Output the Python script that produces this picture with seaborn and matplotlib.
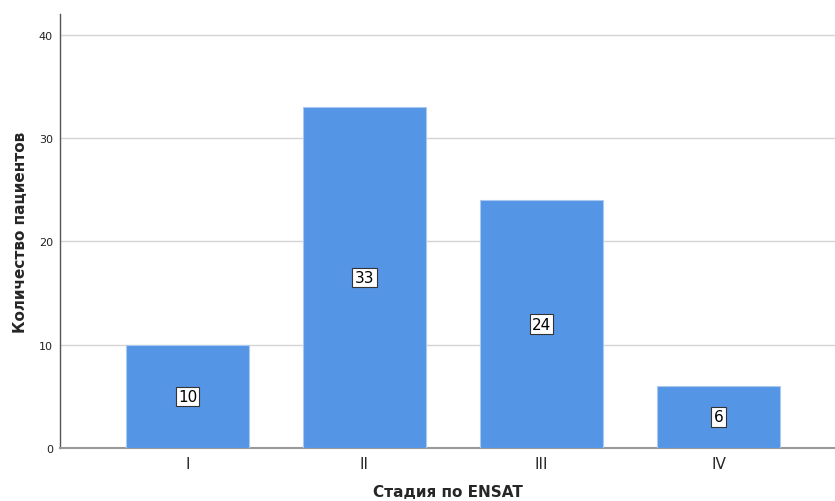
import matplotlib
matplotlib.use("Agg")
import matplotlib.pyplot as plt
import seaborn as sns
import pandas as pd

categories = ["I", "II", "III", "IV"]
counts = [10, 33, 24, 6]
y_ticks = [0, 10, 20, 30, 40]

sns.set_style("white")
plt.rcParams['font.family'] = ['DejaVu Sans']

df = pd.DataFrame({"stage": categories, "count": counts})

fig = plt.figure(figsize=(8.35, 5.02), dpi=100)
ax = fig.add_axes([60/835, 53/502, 775/835, 434/502])

sns.barplot(data=df, x="stage", y="count", color="#5595E5", saturation=1,
            width=0.695, edgecolor="#a9c9f0", linewidth=0.8, ax=ax, zorder=3)

ax.set_xlim(-0.72, 3.658)
ax.set_ylim(0, 42.0)
ax.set_yticks(y_ticks)
ax.set_yticklabels([str(t) for t in y_ticks], fontsize=8, color="#222222")
ax.tick_params(axis='x', labelsize=11, length=0, pad=6)
ax.tick_params(axis='y', length=0, pad=5)
ax.yaxis.grid(True, color="#d4d4d4", linewidth=1.0, zorder=0)
ax.set_axisbelow(True)

for s in ["top", "right"]:
    ax.spines[s].set_visible(False)
ax.spines["left"].set_color("#555555")
ax.spines["left"].set_linewidth(1.0)
ax.spines["bottom"].set_color("#999999")
ax.spines["bottom"].set_linewidth(1.5)

for i, v in enumerate(counts):
    ax.text(i, v / 2, str(v), ha="center", va="center", fontsize=11, color="black", zorder=5,
            bbox=dict(boxstyle="square,pad=0.15", facecolor="white", edgecolor="#333333", linewidth=0.8))

ax.set_xlabel("Стадия по ENSAT", fontsize=11, fontweight="bold", labelpad=9)
ax.set_ylabel("Количество пациентов", fontsize=11, fontweight="bold", labelpad=8)

fig.savefig("out.png", dpi=100)
